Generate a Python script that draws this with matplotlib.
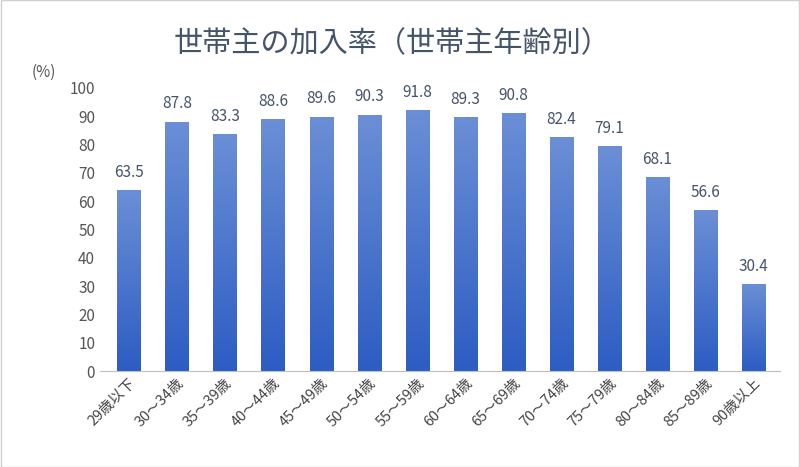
import matplotlib
matplotlib.use("Agg")
import matplotlib.pyplot as plt
import numpy as np
from matplotlib.colors import LinearSegmentedColormap

plt.rcParams["font.family"] = ["Noto Sans CJK JP", "DejaVu Sans"]

categories = ["29歳以下", "30～34歳", "35～39歳", "40～44歳", "45～49歳", "50～54歳",
              "55～59歳", "60～64歳", "65～69歳", "70～74歳", "75～79歳", "80～84歳",
              "85～89歳", "90歳以上"]
values = [63.5, 87.8, 83.3, 88.6, 89.6, 90.3, 91.8, 89.3, 90.8, 82.4, 79.1, 68.1, 56.6, 30.4]
yticks = list(range(0, 101, 10))

fig = plt.figure(figsize=(8, 4.67), dpi=100)
ax = fig.add_axes([0.125, 0.205, 0.85, 0.607])
x = np.arange(len(categories))
bars = ax.bar(x, values, width=0.48, color="none")
cmap = LinearSegmentedColormap.from_list("g", ["#2c5dc3", "#6b8fd6"])
grad = np.linspace(0, 1, 256).reshape(-1, 1)
for b in bars:
    x0, w, h = b.get_x(), b.get_width(), b.get_height()
    ax.imshow(grad, extent=[x0, x0 + w, 0, h], origin="lower", cmap=cmap,
              aspect="auto", zorder=2)
    ax.text(x0 + w / 2, h + 3.5, f"{h:.1f}", ha="center", va="bottom",
            fontsize=11, color="#44546a")
ax.set_xlim(-0.6, len(categories) - 0.45)
ax.set_ylim(0, 100)
ax.set_yticks(yticks)
ax.set_yticklabels([str(t) for t in yticks], fontsize=11, color="#555555")
ax.set_xticks(x)
ax.set_xticklabels(categories, rotation=45, ha="right", rotation_mode="anchor",
                   fontsize=10.5, color="#444444")
ax.tick_params(length=0)
for s in ["top", "right", "left"]:
    ax.spines[s].set_visible(False)
ax.spines["bottom"].set_color("#bfbfbf")
ax.text(-0.1, 1.04, "(%)", transform=ax.transAxes, fontsize=11, color="#555555")
fig.text(0.49, 0.905, "世帯主の加入率（世帯主年齢別）", ha="center", va="center",
         fontsize=21, color="#44546a")
fig.patches.append(plt.Rectangle((0.001, 0.001), 0.998, 0.998, transform=fig.transFigure,
                                 fill=False, edgecolor="#d0d0d0", lw=1))
fig.savefig("out.png", dpi=100)
